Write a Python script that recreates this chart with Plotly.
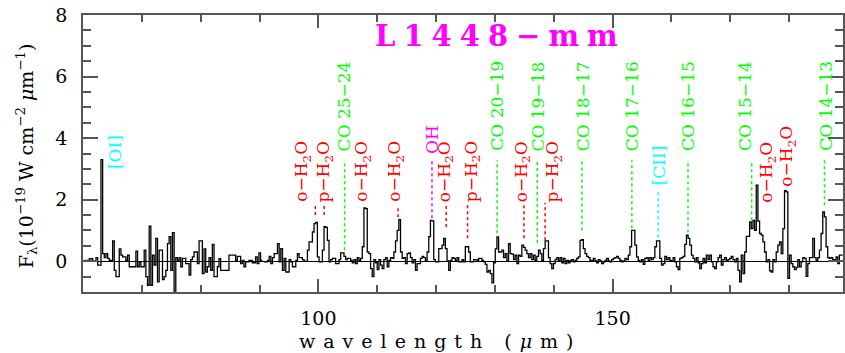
import numpy as np
import plotly.graph_objects as go

# ---------------- spectrum data ----------------
bin_width = 0.2825          # micron per spectral bin
seg1_start = 60.23          # first detector segment start (micron)
seg2_start = 90.79          # second segment start (micron)

flux_seg1 = [0.03, 0.03, 0.03, 0.08, 0.08, 0.01, 0.01, 0.12, -0.13, -0.13,
             3.3, 0.25, 0.12, 0.25, 0.09, 0.03, 0.03, 0.66, -0.3, -0.5,
             -0.5, 0.4, 0.2, 0.14, 0.14, 0.03, 0.2, -0.18, -0.18, -0.18,
             -0.18, 0.33, -0.18, -0.02, -0.18, -0.18, 0.36, -0.5, -0.78, 1.14,
             -0.78, 0.2, -0.13, 0.74, -0.67, 0.36, 0.36, -0.6, -0.5, -0.3,
             0.57, 0.8, -0.3, 0.93, -1.2, 0.12, 0.03, 0.12, -0.18, 0.09,
             0.09, -0.08, -0.08, -0.45, 0.05, 0.14, 0.3, 0.3, -0.08, 0.66,
             0.66, -0.4, 0.4, -0.35, -0.18, 0.12, -0.3, 0.55, -0.5, -0.5,
             -0.18, 0.08, -0.3, -0.3, -0.3, -0.3, -0.3, 0.2, 0.2, 0.2,
             0.2, 0.03, 0.16, 0.16, -0.08, 0.03, -0.18, -0.02, -0.02, 0.03,
             0.03, -0.05, -0.05, 0.14, -0.08, 0.27, 0.03]

flux_seg2 = [-0.02, -0.02, 0.03, 0.16, -0.08, 0.12,
             0.25, 0.25, 0.57, -0.02, 0.41, -0.3, 0.09, -0.35, -0.35, 0.05,
             -0.02, -0.18, -0.18, 0.03, 0.25, 0.12, 0.12, 0.05, 0.0, 0.0,
             0.36, 0.63, 0.63, 0.95, 1.22, 1.26, 0.14, -0.02, -0.02, 0.36,
             1.12, 1.1, 0.68, -0.02, 0.05, 0.09, 0.09, -0.08, -0.08, 0.05,
             0.27, 0.27, 0.16, 0.05, 0.09, 0.09, 0.03, -0.05, 0.05, -0.08,
             0.12, 0.03, 0.09, 0.47, 1.73, 1.71, 0.3, 0.25, -0.24, -0.5,
             0.05, -0.05, -0.27, 0.05, -0.13, -0.24, 0.05, 0.12, -0.18, 0.03,
             0.12, 0.09, 0.3, 0.66, 1.0, 1.35, 0.3, 0.09, 0.12, -0.08,
             0.25, 0.27, 0.12, -0.05, 0.05, -0.3, -0.08, -0.08, 0.09, 0.16,
             0.12, 0.03, 0.3, 0.8, 1.33, 1.31, 0.05, -0.02, -0.02, 0.41,
             0.41, 0.52, 0.74, 0.41, 0.01, -0.3, 0.03, 0.12, 0.09, 0.03,
             0.12, -0.02, -0.02, 0.05, -0.02, 0.47, 0.47,
             0.3, -0.02, -0.02, 0.05, 0.05, 0.03, 0.09, 0.09, 0.03, -0.02,
             -0.1, -0.35, -0.3, -0.4, -0.7, -0.05, 0.4, 0.79, 0.3, 0.3,
             0.36, 0.12, 0.25, 0.0, 0.57, 0.25, 0.23, 0.05, 0.2, -0.08,
             0.2, 0.16, 0.52, 0.45, 0.36, 0.25, 0.12, 0.25, 0.05, 0.2,
             0.03, 0.16, 0.36, 0.25, 0.03, 0.41, 0.66, 0.66, 0.12, -0.08,
             -0.24, -0.08, 0.05, 0.12, 0.03, 0.12, -0.05, 0.09, -0.08, 0.03,
             -0.05, 0.03, 0.05, -0.02, 0.03, 0.09, 0.14, 0.68, 0.7, 0.41,
             0.25, 0.16, 0.12, 0.03, 0.01, 0.09, 0.01, -0.05, 0.05, 0.01,
             -0.08, -0.02, 0.03, 0.09, 0.01, -0.02, 0.05, 0.09, 0.12, 0.16,
             0.09, 0.03, -0.02, 0.01, 0.09, 0.05, 0.2, 0.47, 1.0, 1.0,
             0.52, 0.14, 0.03, -0.02, 0.05, -0.1, 0.09, 0.12, 0.01, 0.12,
             0.05, 0.12, 0.47, 0.66,
             0.66, 0.09, -0.13, -0.08, 0.16, 0.05, 0.12, 0.03, 0.01, 0.12,
             -0.02, -0.18, -0.27, 0.09, 0.12, 0.16, 0.55, 0.85, 0.74, 0.52,
             0.2, 0.09, -0.02, 0.12, -0.05, -0.24, -0.08, 0.09, -0.05, 0.2,
             0.05, 0.2, -0.02, -0.18, -0.24, -0.02, 0.12, 0.2, -0.13, 0.05,
             0.12, 0.03, 0.05, 0.09, 0.16, 0.05, -0.02, 0.09, -0.3, -0.67,
             0.2, -0.4, 0.3, 0.81, 0.81, 1.28, 1.06, 1.33, 1.0, 2.47,
             1.3, 0.9, 0.85, 0.63, 0.3, -0.02, 0.05, -0.31, -0.35, 0.05,
             -0.02, 0.3, 0.52, 0.63, 0.25, 1.06, 2.29, 2.25, -0.56, 0.2,
             -0.08, -0.18, -0.27, -0.2, 0.05, -0.18, -0.02, 0.12, 0.09, -0.49,
             -0.08, 0.12, 0.12, 0.74, 0.12, 0.03, 0.12, 0.36, 0.9, 1.6,
             1.44, 0.47, 0.12, 0.09, 0.12, 0.05, 0.05, 0.14, -0.08, 0.2,
             0.2]

# ---------------- line identifications ----------------
RED, GREEN, CYAN, MAGENTA = "#ff0000", "#00ff00", "#00ffff", "#ff00ff"
H2O_O = "o\u2212H<sub>2</sub>O"
H2O_P = "p\u2212H<sub>2</sub>O"

line_labels = ["[OI]", H2O_O, H2O_P, "CO 25\u221224", H2O_O, H2O_O, "OH", H2O_O,
               H2O_P, "CO 20\u221219", H2O_O, "CO 19\u221218", H2O_P,
               "CO 18\u221217", "CO 17\u221216", "[CII]", "CO 16\u221215",
               "CO 15\u221214", H2O_O, H2O_O, "CO 14\u221213"]
line_wl = [63.18, 99.49, 100.98, 104.45, 108.07, 113.54, 119.3, 121.72,
           125.35, 130.37, 134.93, 137.2, 138.53,
           144.78, 153.27, 157.74, 162.81,
           173.63, 174.63, 179.53, 186.0]
line_colors = [CYAN, RED, RED, GREEN, RED, RED, MAGENTA, RED,
               RED, GREEN, RED, GREEN, RED,
               GREEN, GREEN, CYAN, GREEN,
               GREEN, RED, RED, GREEN]
label_x = [65.4, 97.4, 101.1, 104.4, 107.6, 113.2, 119.3, 121.6,
           126.2, 130.45, 134.7, 137.4, 140.0,
           145.0, 153.3, 157.9, 162.8,
           172.5, 176.4, 179.8, 186.2]
label_y = [3.54, 2.91, 2.91, 5.04, 2.91, 2.91, 3.97, 2.91,
           2.91, 5.04, 2.91, 5.04, 2.91,
           5.04, 5.04, 3.12, 5.04,
           5.04, 2.91, 3.43, 5.04]
dot_top = [None, 1.82, 1.82, 3.28, None, 1.82, 3.28, 1.82,
           1.82, 3.28, 1.82, 3.28, 1.89,
           3.35, 3.28, 2.31, 3.28,
           3.28, None, None, 3.28]
dot_bottom = [None, 1.50, 1.50, 0.36, None, 1.43, 1.40, 1.11,
              0.75, 0.91, 0.75, 0.59, 0.68,
              1.0, 1.07, 0.78, 0.94,
              1.33, None, None, 1.82]

title_text = "L1448\u2212mm"
x_title = "wavelength (<i>\u03bc</i>m)"
y_title = "F<sub>\u03bb</sub>(10<sup>\u221219</sup> W cm<sup>\u22122</sup> <i>\u03bc</i>m<sup>\u22121</sup>)"

# ---------------- build step curve ----------------
xs, ys = [], []
for start, flux in [(seg1_start, flux_seg1), (seg2_start, flux_seg2)]:
    edges = start + bin_width * np.arange(len(flux) + 1)
    xs += list(edges) + [None]
    ys += list(flux) + [flux[-1], None]

FONT = "DejaVu Serif"
AX = "#555555"

fig = go.Figure()
fig.add_trace(go.Scatter(x=xs, y=ys, mode="lines", line=dict(color="black", width=1.3, shape="hv"),
                         connectgaps=False, hoverinfo="skip"))

for wl, top, bot, col in zip(line_wl, dot_top, dot_bottom, line_colors):
    if top is None:
        continue
    fig.add_shape(type="line", x0=wl, x1=wl, y0=bot, y1=top, xref="x", yref="y",
                  line=dict(color=col, width=1.5, dash="dot"))

for txt, lx, ly, col in zip(line_labels, label_x, label_y, line_colors):
    fig.add_annotation(x=lx, y=ly, xref="x", yref="y", text=txt, textangle=-90,
                       showarrow=False, xanchor="center", yanchor="middle",
                       font=dict(family=FONT, size=17, color=col))

fig.add_annotation(x=130.9, y=7.32, xref="x", yref="y",
                   text=f'<b><span style="letter-spacing:8px">{title_text}</span></b>',
                   showarrow=False, xanchor="center", yanchor="middle",
                   font=dict(family=FONT, size=29, color=MAGENTA))
fig.add_annotation(x=0.47, y=-0.177, xref="paper", yref="paper",
                   text=f'<span style="letter-spacing:8px">{x_title}</span>',
                   showarrow=False, xanchor="center", yanchor="middle",
                   font=dict(family=FONT, size=19, color="black"))
fig.add_annotation(x=-0.075, y=0.49, xref="paper", yref="paper", text=y_title,
                   textangle=-90, showarrow=False, xanchor="center", yanchor="middle",
                   font=dict(family=FONT, size=19, color="black"))

fig.update_layout(
    width=845, height=353, margin=dict(l=83, r=0, t=15, b=61),
    plot_bgcolor="white", paper_bgcolor="white", showlegend=False,
    xaxis=dict(range=[60, 189.15], tickmode="linear", tick0=0, dtick=50,
               ticks="inside", ticklen=13, tickwidth=1.5, tickcolor=AX,
               showline=True, linecolor=AX, linewidth=1.5, mirror="ticks",
               showgrid=False, zeroline=False, ticklabelstandoff=8,
               tickfont=dict(family=FONT, size=19, color="black"),
               minor=dict(tickmode="linear", tick0=0, dtick=10, ticks="inside",
                          ticklen=7, tickwidth=1.5, tickcolor=AX, showgrid=False)),
    yaxis=dict(range=[-1, 8], tickmode="linear", tick0=0, dtick=2,
               ticks="inside", ticklen=15, tickwidth=1.5, tickcolor=AX,
               showline=True, linecolor=AX, linewidth=1.5, mirror="ticks",
               showgrid=False, zeroline=True, zerolinecolor="black", zerolinewidth=1,
               ticklabelstandoff=10,
               tickfont=dict(family=FONT, size=19, color="black"),
               minor=dict(tickmode="linear", tick0=0, dtick=0.5, ticks="inside",
                          ticklen=8, tickwidth=1.5, tickcolor=AX, showgrid=False)),
)

fig.write_html("out.html")
